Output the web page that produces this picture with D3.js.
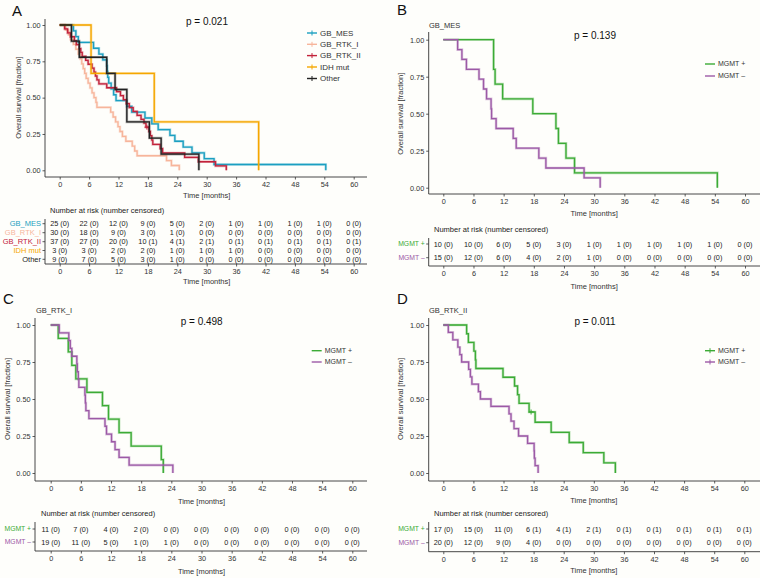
<!DOCTYPE html>
<html><head><meta charset="utf-8">
<script src="https://cdn.jsdelivr.net/npm/d3@7"></script>
<style>
body{margin:0;background:#fefefb;}
svg{display:block;font-family:"Liberation Sans",Arial,sans-serif;}
</style></head>
<body><svg id="c" width="760" height="578"></svg>
<script>
// ---------- data ----------
const timeTicks = [0,6,12,18,24,30,36,42,48,54,60];
const survTicks = [0,0.25,0.5,0.75,1];

// Panel A (subtypes)
const groupsA = ["GB_MES","GB_RTK_I","GB_RTK_II","IDH mut","Other"];
const colorsA = ["#1b9fc1","#f7b59b","#c2223b","#f5a700","#222222"];
const mesT = [0,2.8,3.3,3.8,6.9,8.0,8.8,9.6,9.7,9.8,10.0,10.5,11.0,11.5,13.7,14.7,17.4,18.8,20.1,22.5,23.5,25.2,27.0,29.5,31.5,54.3];
const mesS = [1,.96,.92,.88,.84,.80,.76,.72,.68,.64,.60,.56,.52,.48,.44,.40,.36,.32,.28,.24,.20,.16,.12,.08,.04,0];
const rtk1T = [0,1.2,1.8,2.2,2.8,3.3,3.8,4.2,4.5,4.8,5.1,5.4,5.8,6.2,6.6,7.0,7.4,7.6,10.4,10.9,11.4,11.9,12.3,12.8,13.5,14.8,15.3,15.8,21.8,22.8,24.4];
const rtk1S = [1,.967,.933,.9,.867,.833,.8,.767,.733,.7,.667,.633,.6,.567,.533,.5,.467,.433,.4,.367,.333,.3,.267,.233,.2,.167,.133,.1,.067,.033,0];
const rtk2T = [0,1.0,1.6,2.2,3.0,3.4,4.0,4.3,4.6,5.3,5.8,6.6,7.0,7.3,7.6,8.0,9.6,11.6,12.4,13.0,13.6,14.2,15.0,15.8,16.6,17.2,17.6,18.2,18.5,18.8,19.0,20.5,21.0,25.5,28.3,31.8,34.0];
const rtk2S = [1,.973,.946,.919,.892,.865,.838,.811,.784,.757,.730,.703,.676,.649,.622,.595,.568,.541,.514,.486,.459,.432,.405,.378,.351,.324,.297,.267,.238,.208,.178,.149,.119,.089,.059,.030,0];
const rtk2CensT = [17.8]; const rtk2CensS = [.297];
const idhT = [0,6.4,19.3,40.6];
const idhS = [1,.667,.333,0];
const otherT = [0,2.4,4.0,9.6,11.3,13.7,18.3,20.7,28.4];
const otherS = [1,.889,.778,.667,.556,.333,.222,.111,0];
const riskA = [
  [25,22,12,9,5,2,1,1,1,1,0],
  [30,18,9,3,1,0,0,0,0,0,0],
  [37,27,20,10,4,2,0,0,0,0,0],
  [3,3,2,2,1,1,1,0,0,0,0],
  [9,7,5,3,1,0,0,0,0,0,0]];
const censA = [
  [0,0,0,0,0,0,0,0,0,0,0],
  [0,0,0,0,0,0,0,0,0,0,0],
  [0,0,0,1,1,1,1,1,1,1,1],
  [0,0,0,0,0,0,0,0,0,0,0],
  [0,0,0,0,0,0,0,0,0,0,0]];

// MGMT groups
const groupsM = ["MGMT +","MGMT \u2013"];
const colorsM = ["#3cab36","#9c59a6"];
// Panel B (GB_MES)
const bPosT = [0,10.0,10.3,11.8,17.8,22.4,22.9,24.4,26.1,54.5];
const bPosS = [1,.8,.7,.6,.5,.4,.3,.2,.1,0];
const bNegT = [0,2.85,3.7,4.6,7.1,8.0,8.6,9.5,9.6,10.5,13.9,14.5,19.0,20.4,28.0,31.2];
const bNegS = [1,.933,.867,.8,.733,.667,.6,.533,.467,.4,.333,.267,.2,.133,.067,0];
const riskB = [[10,10,6,5,3,1,1,1,1,1,0],[15,12,6,4,2,1,0,0,0,0,0]];
const censB = [[0,0,0,0,0,0,0,0,0,0,0],[0,0,0,0,0,0,0,0,0,0,0]];
// Panel C (GB_RTK_I)
const cPosT = [0,1.5,3.5,4.2,5.0,7.2,10.3,11.5,13.6,16.0,22.0,22.4];
const cPosS = [1,.909,.818,.727,.636,.545,.455,.364,.273,.182,.091,0];
const cNegT = [0,1.7,3.6,3.9,4.2,5.2,5.3,5.5,5.6,6.8,6.9,7.0,7.6,10.8,11.1,12.1,12.8,13.6,15.6,24.3];
const cNegS = [1,.947,.895,.842,.789,.737,.684,.632,.579,.526,.474,.421,.368,.316,.263,.211,.158,.105,.053,0];
const riskC = [[11,7,4,2,0,0,0,0,0,0,0],[19,11,5,1,1,0,0,0,0,0,0]];
const censC = [[0,0,0,0,0,0,0,0,0,0,0],[0,0,0,0,0,0,0,0,0,0,0]];
// Panel D (GB_RTK_II)
const dPosT = [0,4.65,5.0,6.1,6.4,6.5,11.9,14.2,14.8,15.1,17.1,18.3,21.5,25.1,27.9,32.0,34.3];
const dPosS = [1,.941,.882,.824,.765,.706,.647,.588,.529,.471,.412,.343,.275,.206,.137,.069,0];
const dPosCensT = [17.5]; const dPosCensS = [.412];
const dNegT = [0,1.0,1.9,2.9,3.3,3.65,5.05,5.4,5.7,7.0,7.4,9.5,13.1,13.5,14.1,15.0,16.8,18.1,18.15,18.3,18.9];
const dNegS = [1,.95,.9,.85,.8,.75,.7,.65,.6,.55,.5,.45,.4,.35,.3,.25,.2,.15,.1,.05,0];
const riskD = [[17,15,11,6,4,2,0,0,0,0,0],[20,12,9,4,0,0,0,0,0,0,0]];
const censD = [[0,0,0,1,1,1,1,1,1,1,1],[0,0,0,0,0,0,0,0,0,0,0]];

// ---------- drawing ----------
const svg = d3.select("#c");
const axisCol = "#333";
const zip = (T,S)=>T.map((t,i)=>({t:t,s:S[i]}));

function drawPanel(cfg){
  const g = svg.append("g");
  const x = d3.scaleLinear().domain([0,60]).range([cfg.x0,cfg.x60]);
  const y = d3.scaleLinear().domain([0,1]).range([cfg.yb,cfg.yt]);
  // letter
  g.append("text").attr("x",cfg.lx).attr("y",cfg.ly).attr("font-size",15).attr("fill","#111").text(cfg.letter);
  if(cfg.sub) g.append("text").attr("x",cfg.subX).attr("y",cfg.subY).attr("dy","0.35em").attr("font-size",7.5).attr("fill","#333").text(cfg.sub);
  // axes
  const ya = g.append("g").attr("transform",`translate(${cfg.ax},0)`)
    .call(d3.axisLeft(y).tickValues(survTicks).tickFormat(d3.format(".2f")).tickSize(2.5).tickPadding(2));
  const xa = g.append("g").attr("transform",`translate(0,${cfg.ay})`)
    .call(d3.axisBottom(x).tickValues(timeTicks).tickFormat(d3.format("d")).tickSize(2.5).tickPadding(2.5));
  [ya,xa].forEach(a=>{a.select(".domain").remove();
    a.selectAll("line").attr("stroke",axisCol).attr("stroke-width",0.8);
    a.selectAll("text").attr("font-size",7.3).attr("fill","#333").attr("font-family","Liberation Sans,Arial,sans-serif");});
  g.append("path").attr("d",`M${cfg.ax},${cfg.top}V${cfg.ay}H${cfg.right}`).attr("fill","none").attr("stroke",axisCol).attr("stroke-width",0.9);
  g.append("text").attr("transform",`translate(${cfg.ytx},${(cfg.yt+cfg.yb)/2}) rotate(-90)`).attr("text-anchor","middle").attr("dy","0.35em")
    .attr("font-size",7.5).attr("fill","#333").text("Overall survival [fraction]");
  g.append("text").attr("x",x(30)).attr("y",cfg.xtY).attr("dy","0.35em").attr("text-anchor","middle").attr("font-size",7.5).attr("fill","#333").text("Time [months]");
  g.append("text").attr("x",cfg.px).attr("y",cfg.py).attr("dy","0.35em").attr("text-anchor","middle").attr("font-size",10).attr("fill","#111").text(cfg.p);
  // curves
  const line = d3.line().x(d=>x(d.t)).y(d=>y(d.s)).curve(d3.curveStepAfter);
  cfg.series.forEach(se=>{
    const pts = zip(se.T,se.S);
    g.append("path").attr("d",line(pts)).attr("fill","none").attr("stroke",se.col).attr("stroke-opacity",0.35).attr("stroke-width",2.6);
    g.append("path").attr("d",line(pts)).attr("fill","none").attr("stroke",se.col).attr("stroke-width",1.3);
    if(se.cT) se.cT.forEach((t,i)=>{
      g.append("path").attr("d",`M${x(t)},${y(se.cS[i])-2.5}v5M${x(t)-2.5},${y(se.cS[i])}h5`).attr("stroke",se.col).attr("stroke-width",1);
    });
  });
  // legend
  cfg.series.forEach((se,i)=>{
    const ly = cfg.legYs[i];
    g.append("line").attr("x1",cfg.legX).attr("x2",cfg.legX+10).attr("y1",ly).attr("y2",ly).attr("stroke",se.col).attr("stroke-width",1.4);
    if(cfg.cross) g.append("line").attr("x1",cfg.legX+5).attr("x2",cfg.legX+5).attr("y1",ly-2.5).attr("y2",ly+2.5).attr("stroke",se.col).attr("stroke-width",1);
    g.append("text").attr("x",cfg.legX+13).attr("y",ly).attr("dy","0.35em").attr("font-size",cfg.legFont).attr("fill","#333").text(se.name);
  });
  // risk table
  const tb = cfg.table;
  g.append("text").attr("x",tb.titleX).attr("y",tb.titleY).attr("dy","0.35em").attr("font-size",7.5).attr("fill","#222").text("Number at risk (number censored)");
  g.append("path").attr("d",`M${cfg.ax},${tb.top}V${tb.ay}H${cfg.right}`).attr("fill","none").attr("stroke",axisCol).attr("stroke-width",0.9);
  cfg.series.forEach((se,i)=>{
    const ry = tb.rows[i];
    g.append("line").attr("x1",cfg.ax-2.5).attr("x2",cfg.ax).attr("y1",ry).attr("y2",ry).attr("stroke",axisCol).attr("stroke-width",0.8);
    g.append("text").attr("x",cfg.ax-4).attr("y",ry).attr("dy","0.35em").attr("text-anchor","end").attr("font-size",tb.labFont).attr("fill",se.col).text(se.name);
    g.selectAll(null).data(timeTicks).enter().append("text")
      .attr("x",d=>x(d)).attr("y",ry).attr("dy","0.35em").attr("text-anchor","middle").attr("font-size",7.3).attr("fill","#222")
      .text((d,k)=>`${se.risk[k]} (${se.cens[k]})`);
  });
  const ta = g.append("g").attr("transform",`translate(0,${tb.ay})`)
    .call(d3.axisBottom(x).tickValues(timeTicks).tickFormat(d3.format("d")).tickSize(2.5).tickPadding(2.5));
  ta.select(".domain").remove();
  ta.selectAll("line").attr("stroke",axisCol).attr("stroke-width",0.8);
  ta.selectAll("text").attr("font-size",7.3).attr("fill","#333").attr("font-family","Liberation Sans,Arial,sans-serif");
  g.append("text").attr("x",x(30)).attr("y",tb.xtY).attr("dy","0.35em").attr("text-anchor","middle").attr("font-size",7.5).attr("fill","#333").text("Time [months]");
}

const seriesA = [
  {name:groupsA[0],col:colorsA[0],T:mesT,S:mesS,risk:riskA[0],cens:censA[0]},
  {name:groupsA[1],col:colorsA[1],T:rtk1T,S:rtk1S,risk:riskA[1],cens:censA[1]},
  {name:groupsA[2],col:colorsA[2],T:rtk2T,S:rtk2S,cT:rtk2CensT,cS:rtk2CensS,risk:riskA[2],cens:censA[2]},
  {name:groupsA[3],col:colorsA[3],T:idhT,S:idhS,risk:riskA[3],cens:censA[3]},
  {name:groupsA[4],col:colorsA[4],T:otherT,S:otherS,risk:riskA[4],cens:censA[4]}];

drawPanel({letter:"A",lx:12,ly:15.5,x0:59.7,x60:353.7,yt:25,yb:170.3,ax:45,ay:177,top:19,right:367,ytx:18,xtY:195.5,
  p:"p = 0.021",px:207,py:21.5,legX:307,legYs:[33,44.3,55.6,67,78.5],cross:true,legFont:8,series:seriesA,
  table:{titleX:50,titleY:210,rows:[223.7,232.7,241.7,250.5,259.3],ay:264,top:219,xtY:281.5,labFont:7.5}});

drawPanel({letter:"B",lx:397,ly:15,sub:"GB_MES",subX:429,subY:25,x0:443.3,x60:745,yt:39.7,yb:187.7,ax:428.7,ay:194,top:32,right:760,ytx:400,xtY:213,
  p:"p = 0.139",px:595,py:35,legX:705,legYs:[64,76],cross:false,legFont:7,
  series:[{name:groupsM[0],col:colorsM[0],T:bPosT,S:bPosS,risk:riskB[0],cens:censB[0]},
          {name:groupsM[1],col:colorsM[1],T:bNegT,S:bNegS,risk:riskB[1],cens:censB[1]}],
  table:{titleX:434,titleY:229,rows:[244,257.7],ay:266,top:238,xtY:286,labFont:6.8}});

drawPanel({letter:"C",lx:3,ly:304,sub:"GB_RTK_I",subX:36,subY:310,x0:50.7,x60:352.3,yt:325,yb:473,ax:35,ay:481,top:318,right:367,ytx:7,xtY:501,
  p:"p = 0.498",px:201.7,py:321,legX:311.7,legYs:[350.7,362],cross:false,legFont:7,
  series:[{name:groupsM[0],col:colorsM[0],T:cPosT,S:cPosS,risk:riskC[0],cens:censC[0]},
          {name:groupsM[1],col:colorsM[1],T:cNegT,S:cNegS,risk:riskC[1],cens:censC[1]}],
  table:{titleX:41,titleY:513,rows:[529,542],ay:551,top:522,xtY:571,labFont:6.8}});

drawPanel({letter:"D",lx:397,ly:304,sub:"GB_RTK_II",subX:429,subY:310,x0:443.3,x60:744.3,yt:325,yb:473,ax:428.7,ay:481,top:318,right:760,ytx:400,xtY:500.7,
  p:"p = 0.011",px:595,py:321,legX:705,legYs:[350.7,362],cross:true,legFont:7,
  series:[{name:groupsM[0],col:colorsM[0],T:dPosT,S:dPosS,cT:dPosCensT,cS:dPosCensS,risk:riskD[0],cens:censD[0]},
          {name:groupsM[1],col:colorsM[1],T:dNegT,S:dNegS,risk:riskD[1],cens:censD[1]}],
  table:{titleX:434,titleY:513,rows:[529,542.7],ay:551.7,top:522,xtY:570.7,labFont:6.8}});
</script></body></html>
